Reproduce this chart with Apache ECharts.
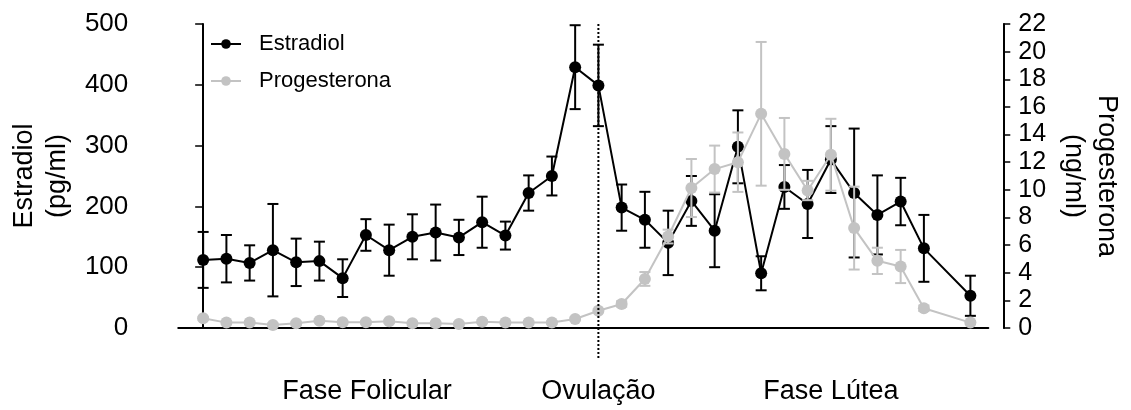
<!DOCTYPE html>
<html>
<head>
<meta charset="utf-8">
<script src="https://cdn.jsdelivr.net/npm/echarts@6/dist/echarts.min.js"></script>
<style>
  html, body { margin: 0; padding: 0; background: #fff; }
  #chart { width: 1131px; height: 410px; }
</style>
</head>
<body>
<div id="chart"></div>
<script>
// ---- data ----
// day slots along the cycle (slot 32 has no sample)
const slots = [0,1,2,3,4,5,6,7,8,9,10,11,12,13,14,15,16,17,18,19,20,21,22,23,24,25,26,27,28,29,30,31,33];
const estradiol = [112,114,107,128,108,110,82,153,128,150,157,149,174,152,222,250,429,399,198,178,140,209,160,298,90,232,204,277,222,186,208,131,53];
const estradiolErr = [46,39,29,76,39,32,31,26,42,37,46,29,42,23,29,32,69,67,38,46,53,41,60,60,28,36,56,55,106,65,39,55,33];
const progesterona = [0.70,0.39,0.39,0.22,0.35,0.53,0.41,0.41,0.48,0.34,0.34,0.29,0.46,0.39,0.39,0.39,0.65,1.25,1.74,3.55,6.62,10.13,11.5,12.0,15.5,12.6,9.95,12.54,7.23,4.86,4.45,1.43,0.39];
const progesteronaErr = [0.1,0.1,0.1,0.1,0.1,0.1,0.1,0.1,0.1,0.1,0.1,0.1,0.1,0.1,0.1,0.1,0.1,0.1,0.2,0.5,0.5,2.1,1.7,2.15,5.2,2.6,0.7,2.6,3.0,0.95,1.2,0.2,0.1];
const ovulationSlot = 17;
const phaseNames = ['Fase Folicular', 'Ovulação', 'Fase Lútea'];
const phaseCenters = [7.05, 17, 27];
const leftTicks = [0, 100, 200, 300, 400, 500];
const rightTicks = [0,2,4,6,8,10,12,14,16,18,20,22];

// ---- build ----
const BLACK = '#000000';
const GRAY = '#c3c3c3';
const FONT = 'Liberation Sans, Arial, sans-serif';

const estPts = slots.map((s, i) => [s, estradiol[i]]);
const proPts = slots.map((s, i) => [s, progesterona[i]]);
const estErrPts = slots.map((s, i) => [s, estradiol[i], estradiolErr[i]]);
const proErrPts = slots.map((s, i) => [s, progesterona[i], progesteronaErr[i]]);

function errRenderer(color, width) {
  return function (params, api) {
    const x = api.value(0), v = api.value(1), e = api.value(2);
    const hi = api.coord([x, v + e]);
    const lo = api.coord([x, v - e]);
    const w = 5.5;
    const st = { stroke: color, lineWidth: width };
    return {
      type: 'group',
      children: [
        { type: 'line', shape: { x1: hi[0], y1: hi[1], x2: lo[0], y2: lo[1] }, style: st },
        { type: 'line', shape: { x1: hi[0] - w, y1: hi[1], x2: hi[0] + w, y2: hi[1] }, style: st },
        { type: 'line', shape: { x1: lo[0] - w, y1: lo[1], x2: lo[0] + w, y2: lo[1] }, style: st }
      ]
    };
  };
}

const chart = echarts.init(document.getElementById('chart'), null, { renderer: 'canvas' });

const option = {
  animation: false,
  backgroundColor: '#ffffff',
  textStyle: { fontFamily: FONT },
  grid: { left: 174, right: 141, top: 24, bottom: 82, containLabel: false },
  legend: {
    orient: 'vertical',
    left: 210,
    top: 33,
    padding: 0,
    itemWidth: 30,
    itemHeight: 12,
    itemGap: 15,
    data: ['Estradiol', 'Progesterona'],
    textStyle: { fontSize: 22, color: '#000', fontFamily: FONT, padding: [0, 0, 0, 13] }
  },
  xAxis: {
    type: 'value',
    min: -1.07,
    max: 33.77,
    offset: 33,
    axisLine: { show: true, lineStyle: { color: '#000', width: 2 } },
    axisTick: { show: false },
    splitLine: { show: false },
    axisLabel: {
      customValues: phaseCenters,
      formatter: function (v) {
        const i = phaseCenters.findIndex(c => Math.abs(c - v) < 1e-6);
        return i >= 0 ? phaseNames[i] : '';
      },
      fontSize: 27,
      color: '#000',
      margin: 17,
      fontFamily: FONT
    }
  },
  yAxis: [
    {
      type: 'value',
      position: 'left',
      min: 0, max: 500, interval: 100,
      offset: 32,
      name: 'Estradiol\n(pg/ml)',
      nameLocation: 'middle',
      nameRotate: 90,
      nameGap: 70,
      nameTextStyle: { fontSize: 27, color: '#000', lineHeight: 33, fontFamily: FONT },
      axisLine: { show: true, lineStyle: { color: '#000', width: 2 } },
      axisTick: { show: true, length: 8, lineStyle: { color: '#000', width: 1.5 } },
      splitLine: { show: false },
      axisLabel: { fontSize: 26, color: '#000', margin: 18, fontFamily: FONT,
        customValues: leftTicks }
    },
    {
      type: 'value',
      position: 'right',
      min: 0, max: 22, interval: 2,
      offset: 15,
      name: 'Progesterona\n(ng/ml)',
      nameLocation: 'middle',
      nameRotate: -90,
      nameGap: 50,
      nameTextStyle: { fontSize: 27, color: '#000', lineHeight: 33, fontFamily: FONT },
      axisLine: { show: true, lineStyle: { color: '#000', width: 2 } },
      axisTick: { show: true, length: 7, lineStyle: { color: '#000', width: 1.5 } },
      splitLine: { show: false },
      axisLabel: { fontSize: 25, color: '#000', margin: 15, fontFamily: FONT,
        customValues: rightTicks }
    }
  ],
  series: [
    {
      name: 'EstradiolErr',
      type: 'custom',
      xAxisIndex: 0, yAxisIndex: 0,
      data: estErrPts,
      encode: { x: 0, y: 1 },
      renderItem: errRenderer(BLACK, 2),
      z: 2,
      silent: true
    },
    {
      name: 'Estradiol',
      type: 'line',
      xAxisIndex: 0, yAxisIndex: 0,
      data: estPts,
      symbol: 'circle',
      symbolSize: 12,
      lineStyle: { color: BLACK, width: 2 },
      itemStyle: { color: BLACK },
      z: 3
    },
    {
      name: 'ProgesteronaErr',
      type: 'custom',
      xAxisIndex: 0, yAxisIndex: 1,
      data: proErrPts,
      encode: { x: 0, y: 1 },
      renderItem: errRenderer(GRAY, 2),
      z: 4,
      silent: true
    },
    {
      name: 'Progesterona',
      type: 'line',
      xAxisIndex: 0, yAxisIndex: 1,
      data: proPts,
      symbol: 'circle',
      symbolSize: 12,
      lineStyle: { color: GRAY, width: 2 },
      itemStyle: { color: GRAY },
      z: 5
    },
    {
      name: 'Ovulação',
      type: 'custom',
      xAxisIndex: 0, yAxisIndex: 0,
      data: [[ovulationSlot, 500]],
      encode: { x: 0, y: 1 },
      clip: false,
      silent: true,
      z: 6,
      renderItem: function (params, api) {
        const top = api.coord([api.value(0), api.value(1)]);
        const base = api.coord([api.value(0), 0]);
        return {
          type: 'line',
          shape: { x1: top[0], y1: top[1], x2: top[0], y2: base[1] + 32 },
          style: { stroke: '#000', lineWidth: 2, lineDash: [2, 2] }
        };
      }
    }
  ]
};

chart.setOption(option);
</script>
</body>
</html>
